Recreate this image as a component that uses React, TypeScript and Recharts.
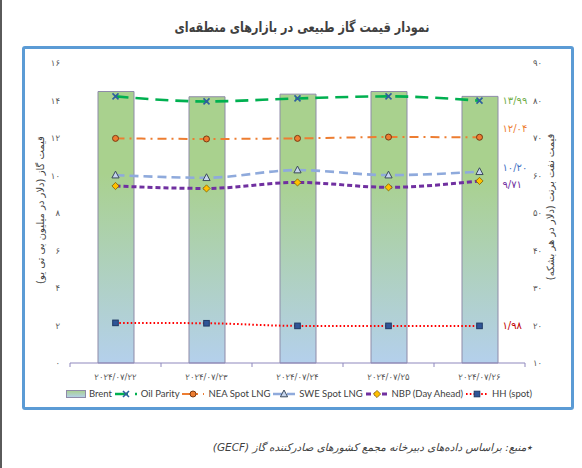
import React from "react";
import { ComposedChart, Bar, Line, XAxis, YAxis, LabelList } from "recharts";

const dates = ["۲۰۲۴/۰۷/۲۲", "۲۰۲۴/۰۷/۲۳", "۲۰۲۴/۰۷/۲۴", "۲۰۲۴/۰۷/۲۵", "۲۰۲۴/۰۷/۲۶"];
const brent = [82.4, 81.0, 81.7, 82.4, 81.1];
const oilParity = [14.22, 13.95, 14.11, 14.22, 13.99];
const neaSpotLng = [11.98, 11.95, 11.98, 12.05, 12.04];
const sweSpotLng = [10.02, 9.88, 10.29, 10.02, 10.2];
const nbpDayAhead = [9.44, 9.31, 9.63, 9.37, 9.71];
const hhSpot = [2.14, 2.12, 1.98, 1.98, 1.98];
const gasTicks = [0, 2, 4, 6, 8, 10, 12, 14, 16];
const oilTicks = [10, 20, 30, 40, 50, 60, 70, 80, 90];

const title = "نمودار قیمت گاز طبیعی در بازارهای منطقه‌ای";
const gasAxisTitle = "قیمت گاز (دلار در میلیون بی تی یو)";
const oilAxisTitle = "قیمت نفت برنت (دلار در هر بشکه)";
const sourceNote = "٭منبع: براساس داده‌های دبیرخانه مجمع کشورهای صادرکننده گاز (GECF)";

const data = dates.map((d, i) => ({
  date: d,
  brent: brent[i],
  oil: oilParity[i],
  nea: neaSpotLng[i],
  swe: sweSpotLng[i],
  nbp: nbpDayAhead[i],
  hh: hhSpot[i],
}));

const FA_FONT = "'DejaVu Sans', sans-serif";
const LATIN_FONT = "Lato, 'Open Sans', sans-serif";

const faDigits = (s: string) => s.replace(/[0-9]/g, (c) => "۰۱۲۳۴۵۶۷۸۹"[+c]);
const faNumber = (n: number, dec = 0) => faDigits(n.toFixed(dec).replace(".", "/"));

type MarkerKind = "x" | "circle" | "triangle" | "diamond" | "square";

const Marker = ({ kind, cx, cy }: { kind: MarkerKind; cx: number; cy: number }) => {
  if (kind === "x")
    return (
      <path
        d={`M${cx - 3} ${cy - 3}L${cx + 3} ${cy + 3}M${cx - 3} ${cy + 3}L${cx + 3} ${cy - 3}`}
        stroke="#2e5f9e"
        strokeWidth={1.6}
      />
    );
  if (kind === "circle") return <circle cx={cx} cy={cy} r={3} fill="#ed7d31" stroke="#7a3a12" strokeWidth={1} />;
  if (kind === "triangle")
    return (
      <path
        d={`M${cx} ${cy - 4}L${cx + 3.6} ${cy + 2.8}L${cx - 3.6} ${cy + 2.8}Z`}
        fill="#c7d6ee"
        stroke="#3b4a5c"
        strokeWidth={1}
      />
    );
  if (kind === "diamond")
    return (
      <path
        d={`M${cx} ${cy - 3.6}L${cx + 3.6} ${cy}L${cx} ${cy + 3.6}L${cx - 3.6} ${cy}Z`}
        fill="#ffc000"
        stroke="#7f6000"
        strokeWidth={0.8}
      />
    );
  return <rect x={cx - 2.8} y={cy - 2.8} width={5.6} height={5.6} fill="#2f5597" stroke="#1f3864" strokeWidth={1} />;
};

const series = [
  { key: "oil", name: "Oil Parity", color: "#00b050", dash: "13 7", width: 2.6, marker: "x" as MarkerKind, labelColor: "#70ad47", labelDy: 0 },
  { key: "nea", name: "NEA Spot LNG", color: "#ed7d31", dash: "9 5 2 5", width: 2, marker: "circle" as MarkerKind, labelColor: "#ed7d31", labelDy: -9 },
  { key: "swe", name: "SWE Spot LNG", color: "#8faadc", dash: "9 5", width: 2.6, marker: "triangle" as MarkerKind, labelColor: "#4472c4", labelDy: -4 },
  { key: "nbp", name: "NBP (Day Ahead)", color: "#7030a0", dash: "5 3", width: 3, marker: "diamond" as MarkerKind, labelColor: "#7030a0", labelDy: 4 },
  { key: "hh", name: "HH (spot)", color: "#ff0000", dash: "1.6 2.2", width: 2, marker: "square" as MarkerKind, labelColor: "#c00000", labelDy: 0 },
];

const lastLabel = (color: string, dy: number) => (props: any) => {
  const { x, y, value, index } = props;
  if (index !== dates.length - 1) return null;
  return (
    <text x={x + 23} y={y + dy} dy="0.35em" fontSize={10} fill={color} fontFamily={FA_FONT} textAnchor="start">
      {faNumber(value, 2)}
    </text>
  );
};

const DateTick = (props: any) => {
  const { x, y, payload, index } = props;
  const half = payload?.offset || 45.5;
  return (
    <g>
      <line x1={x - half} y1={y} x2={x - half} y2={y + 4} stroke="#8f88bd" />
      {index === dates.length - 1 && <line x1={x + half} y1={y} x2={x + half} y2={y + 4} stroke="#8f88bd" />}
      <text x={x} y={y + 17} textAnchor="middle" fontSize={8.5} fill="#595959" fontFamily={FA_FONT}>
        {payload.value}
      </text>
    </g>
  );
};

const LegendIcon = ({ s }: { s: (typeof series)[number] }) => (
  <svg width={24} height={10}>
    <line x1={1} y1={5} x2={23} y2={5} stroke={s.color} strokeWidth={s.width} strokeDasharray={s.dash} />
    <Marker kind={s.marker} cx={12} cy={5} />
  </svg>
);

export default function App() {
  return (
    <div style={{ position: "absolute", left: 0, top: 0, width: 582, height: 468, background: "#fff", overflow: "hidden" }}>
      <div style={{ position: "absolute", left: 0, top: 0, width: 2, height: 468, background: "#5a5a5a" }} />
      <div
        dir="rtl"
        style={{
          position: "absolute",
          left: 0,
          width: 604,
          top: 19,
          textAlign: "center",
          fontFamily: FA_FONT,
          fontWeight: "bold",
          fontSize: 14,
          color: "#404040",
          transform: "scaleX(0.8)",
        }}
      >
        {title}
      </div>
      <div
        style={{
          position: "absolute",
          left: 22,
          top: 46,
          width: 546,
          height: 358,
          border: "3px solid #5b9bd5",
          borderRadius: 3,
        }}
      />
      <div style={{ position: "absolute", left: 0, top: 0 }}>
        <ComposedChart width={582} height={468} data={data} margin={{ top: 63, right: 27, bottom: 75, left: 40 }}>
          <defs>
            <linearGradient id="brentGrad" x1="0" y1="0" x2="0" y2="1">
              <stop offset="0" stopColor="#a9d18e" />
              <stop offset="0.3" stopColor="#a9d18e" />
              <stop offset="1" stopColor="#b4d0ec" />
            </linearGradient>
          </defs>
          <XAxis
            dataKey="date"
            axisLine={{ stroke: "#8f88bd" }}
            tickLine={false}
            tickSize={0}
            tickMargin={0}
            height={30}
            tick={<DateTick />}
            interval={0}
          />
          <YAxis
            yAxisId="left"
            orientation="left"
            width={30}
            domain={[0, 16]}
            ticks={gasTicks}
            axisLine={false}
            tickLine={false}
            tickSize={0}
            tickMargin={10}
            tickFormatter={(v: number) => faNumber(v)}
            tick={{ fontSize: 8.5, fill: "#595959", fontFamily: FA_FONT }}
          />
          <YAxis
            yAxisId="right"
            orientation="right"
            width={30}
            domain={[10, 90]}
            ticks={oilTicks}
            axisLine={false}
            tickLine={false}
            tickSize={0}
            tickMargin={8}
            tickFormatter={(v: number) => faNumber(v)}
            tick={{ fontSize: 8.5, fill: "#595959", fontFamily: FA_FONT }}
          />
          <Bar
            yAxisId="right"
            dataKey="brent"
            name="Brent"
            barSize={36}
            fill="url(#brentGrad)"
            stroke="#8e8ba8"
            strokeWidth={1}
            isAnimationActive={false}
          />
          {series.map((s) => (
            <Line
              key={s.key}
              yAxisId="left"
              dataKey={s.key}
              name={s.name}
              type="monotone"
              stroke={s.color}
              strokeWidth={s.width}
              strokeDasharray={s.dash}
              dot={(p: any) => <Marker key={`${s.key}-${p.index}`} kind={s.marker} cx={p.cx} cy={p.cy} />}
              activeDot={false}
              isAnimationActive={false}
            >
              <LabelList dataKey={s.key} content={lastLabel(s.labelColor, s.labelDy)} />
            </Line>
          ))}
        </ComposedChart>
      </div>
      <div
        dir="rtl"
        style={{
          position: "absolute",
          left: 40,
          top: 210,
          transform: "translate(-50%, -50%) rotate(-90deg)",
          whiteSpace: "nowrap",
          fontFamily: FA_FONT,
          fontSize: 10,
          color: "#404040",
        }}
      >
        {gasAxisTitle}
      </div>
      <div
        dir="rtl"
        style={{
          position: "absolute",
          left: 550,
          top: 207,
          transform: "translate(-50%, -50%) rotate(-90deg)",
          whiteSpace: "nowrap",
          fontFamily: FA_FONT,
          fontSize: 10,
          color: "#404040",
        }}
      >
        {oilAxisTitle}
      </div>
      <div
        style={{
          position: "absolute",
          left: 66,
          top: 388,
          width: 466,
          display: "flex",
          justifyContent: "space-between",
          alignItems: "center",
          fontFamily: LATIN_FONT,
          fontSize: 9.5,
          color: "#404040",
        }}
      >
        <span style={{ display: "flex", alignItems: "center", gap: 3 }}>
          <svg width={20} height={8}>
            <rect x={0.5} y={0.5} width={19} height={7} fill="url(#brentGradLegend)" stroke="#8e8ba8" />
            <defs>
              <linearGradient id="brentGradLegend" x1="0" y1="0" x2="0" y2="1">
                <stop offset="0" stopColor="#a9d18e" />
                <stop offset="1" stopColor="#b4d0ec" />
              </linearGradient>
            </defs>
          </svg>
          Brent
        </span>
        {series.map((s) => (
          <span key={s.key} style={{ display: "flex", alignItems: "center", gap: 3 }}>
            <LegendIcon s={s} />
            {s.name}
          </span>
        ))}
      </div>
      <div
        dir="rtl"
        style={{
          position: "absolute",
          right: 50,
          top: 441,
          fontFamily: FA_FONT,
          fontStyle: "italic",
          fontSize: 10.5,
          color: "#404040",
          whiteSpace: "nowrap",
        }}
      >
        {sourceNote}
      </div>
    </div>
  );
}
